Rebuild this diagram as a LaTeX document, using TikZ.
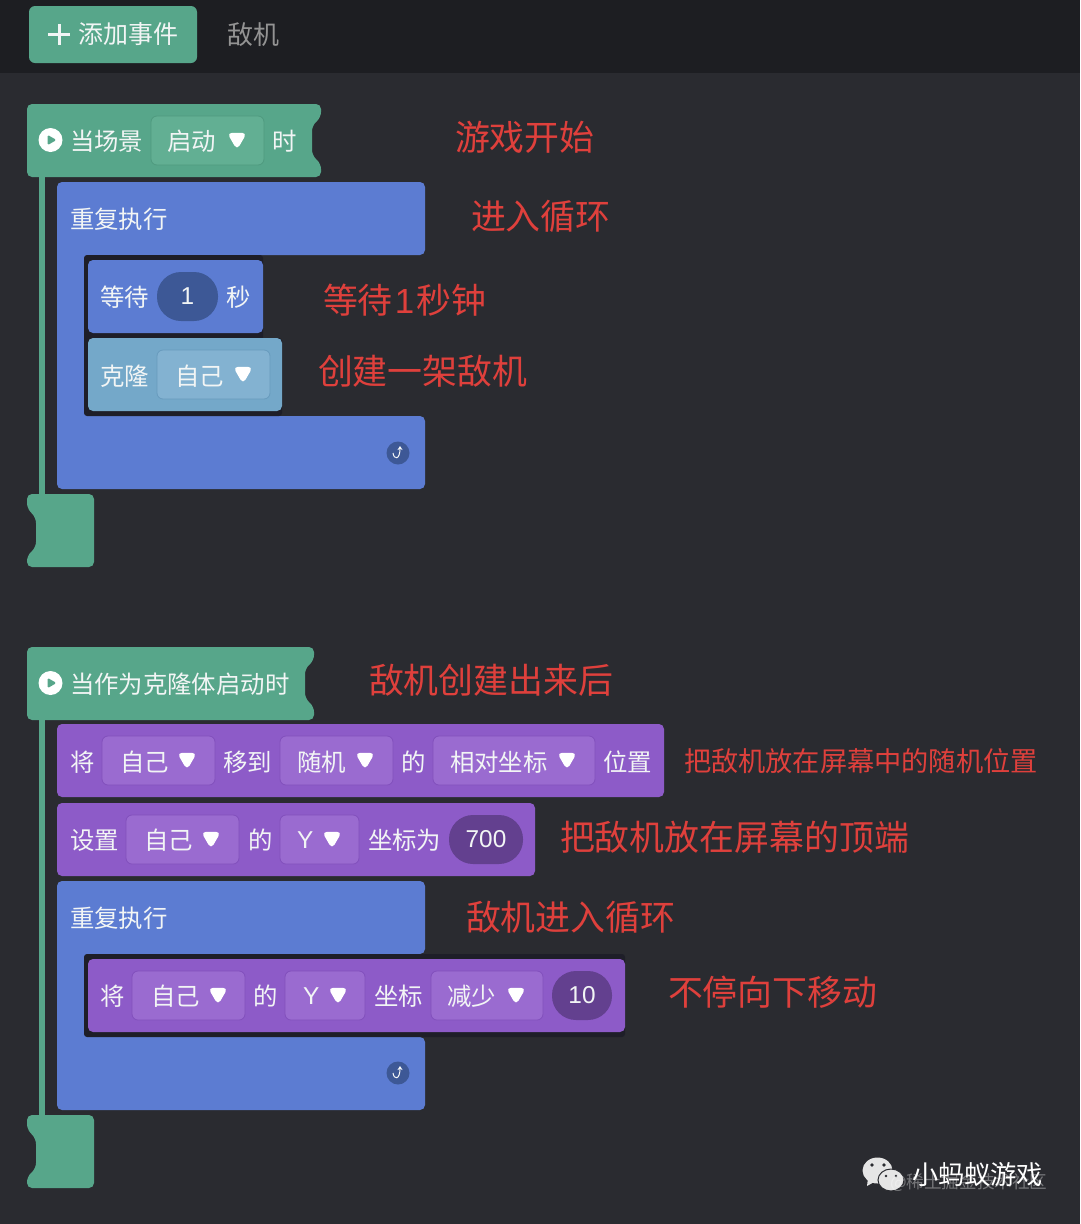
\documentclass[tikz,border=0pt]{standalone}
\usepackage{fontspec}
\usepackage{xcolor}
\usepackage{tikz}
\usetikzlibrary{shapes.geometric,arrows.meta}
\newfontfamily\cjk{Noto Sans CJK SC}
\newfontfamily\latn{Liberation Sans}
\definecolor{pagebg}{HTML}{2A2B30}
\definecolor{barbg}{HTML}{1D1E22}
\definecolor{rimbg}{HTML}{1E1E28}
\definecolor{greenb}{HTML}{57A68A}
\definecolor{greenf}{HTML}{62AF93}
\definecolor{greenl}{HTML}{4F9A7F}
\definecolor{blueb}{HTML}{5C7CD2}
\definecolor{bluedk}{HTML}{3D5896}
\definecolor{skyb}{HTML}{74A8C9}
\definecolor{skyf}{HTML}{83B2D1}
\definecolor{skyl}{HTML}{689BBD}
\definecolor{purpb}{HTML}{8D5BC8}
\definecolor{purpf}{HTML}{9A6BD0}
\definecolor{purpl}{HTML}{8250BC}
\definecolor{purpdk}{HTML}{63408F}
\definecolor{redtxt}{HTML}{DF403C}
\definecolor{softw}{HTML}{F2F5F5}

\begin{document}
\begin{tikzpicture}[x=1pt,y=-1pt]
\tikzstyle{every node}=[inner sep=0pt,outer sep=0pt];
\tikzstyle{lbl}=[anchor=west,text=softw,font=\cjk\fontsize{24.4}{28}\selectfont];
\tikzstyle{note}=[anchor=west,text=redtxt,font=\cjk\fontsize{34.9}{40}\selectfont];
\tikzstyle{stackb}=[rounded corners=5pt,minimum height=73pt];
\tikzstyle{pick}=[rounded corners=6pt,minimum height=49pt,draw,line width=0.8pt];
\tikzstyle{num}=[rounded corners=24pt,minimum height=49pt,text=softw,font=\latn\fontsize{24.4}{28}\selectfont];
\tikzstyle{dropm}=[regular polygon,regular polygon sides=3,shape border rotate=180,fill=white,rounded corners=5pt,minimum size=23pt];
\tikzstyle{playc}=[circle,fill=white,minimum size=24pt];
\tikzstyle{playt}=[regular polygon,regular polygon sides=3,shape border rotate=-90,rounded corners=1.5pt,minimum size=12pt];
\tikzstyle{loopc}=[circle,fill=bluedk,minimum size=23pt];
\useasboundingbox (0,0) rectangle (1080,1224);
\fill[pagebg] (0,0) rectangle (1080,1224);
\fill[barbg] (0,0) rectangle (1080,73);
% top bar
\path (113,34.5) node (addb) [fill=greenb,rounded corners=6pt,minimum width=168pt,minimum height=57pt] {};
\draw[softw,line width=3pt] (48,34.5) -- (70,34.5) (59,24) -- (59,45);
\path (78,34) node (addt) [lbl,font=\cjk\fontsize{25}{28}\selectfont] {添加事件};
\path (227,35) node (tabt) [lbl,text=gray!85,font=\cjk\fontsize{26}{30}\selectfont] {敌机};
% first script
\fill[greenb,rounded corners=5pt] (42,177) -- (27,177) -- (27,104) -- (321,104) -- (321,117) -- (312,126) -- (312,155) -- (321,164) -- (321,177) -- cycle;
\fill[greenb] (39,177) rectangle (45,500);
\fill[greenb,rounded corners=5pt] (60,494) -- (94,494) -- (94,567) -- (27,567) -- (27,556) -- (36,547) -- (36,518) -- (27,508) -- (27,494) -- cycle;
\path (50.5,140) node (p1) [playc] {};
\path (50.5,140) node (p1t) [playt,fill=greenb] {};
\path (70,141) node (h1a) [lbl] {当场景};
\path (207.5,140.5) node (f1) [pick,fill=greenf,draw=greenl,minimum width=113pt] {};
\path (167,141) node (f1t) [lbl] {启动};
\path (237,138.5) node (d1) [dropm] {};
\path (272,141) node (h1b) [lbl] {时};
% loop
\fill[blueb,rounded corners=5pt] (200,182) -- (425,182) -- (425,255) -- (84,255) -- (84,416) -- (425,416) -- (425,489) -- (57,489) -- (57,182) -- cycle;
\fill[rimbg,rounded corners=3pt] (84,255) rectangle (263,345);
\fill[rimbg,rounded corners=3pt] (84,338) rectangle (282,416);
\path (70,219) node (r1t) [lbl] {重复执行};
\path (175.5,296.5) node (w1) [stackb,fill=blueb,minimum width=175pt] {};
\path (100,297) node (w1t) [lbl] {等待};
\path (187.5,296.5) node (w1n) [num,fill=bluedk,minimum width=61pt] {1};
\path (226,297) node (w1u) [lbl] {秒};
\path (185,374.5) node (c1) [stackb,fill=skyb,minimum width=194pt] {};
\path (100,376) node (c1t) [lbl] {克隆};
\path (213.5,374.5) node (f2) [pick,fill=skyf,draw=skyl,minimum width=113pt] {};
\path (175,376) node (f2t) [lbl] {自己};
\path (243,372.5) node (d2) [dropm] {};
\path (398,453) node (l1) [loopc] {};
\draw[softw!65,line width=1pt,-{Stealth[length=4pt,width=5pt]}] (393,453) .. controls (394,460) and (400,460) .. (400,446);
% second script
\fill[greenb,rounded corners=5pt] (42,720) -- (27,720) -- (27,647) -- (314,647) -- (314,660) -- (305,669) -- (305,698) -- (314,707) -- (314,720) -- cycle;
\fill[greenb] (39,720) rectangle (45,1121);
\fill[greenb,rounded corners=5pt] (60,1115) -- (94,1115) -- (94,1188) -- (27,1188) -- (27,1177) -- (36,1168) -- (36,1139) -- (27,1129) -- (27,1115) -- cycle;
\path (50.5,683) node (p2) [playc] {};
\path (50.5,683) node (p2t) [playt,fill=greenb] {};
\path (70,684) node (h2a) [lbl] {当作为克隆体启动时};
\path (360.5,760.5) node (m1) [stackb,fill=purpb,minimum width=607pt] {};
\path (70,762) node (m1a) [lbl] {将};
\path (158.5,760.5) node (f3) [pick,fill=purpf,draw=purpl,minimum width=113pt] {};
\path (120,762) node (f3t) [lbl] {自己};
\path (187,758.5) node (d3) [dropm] {};
\path (223,762) node (m1b) [lbl] {移到};
\path (336.5,760.5) node (f4) [pick,fill=purpf,draw=purpl,minimum width=113pt] {};
\path (297,762) node (f4t) [lbl] {随机};
\path (365,758.5) node (d4) [dropm] {};
\path (401,762) node (m1c) [lbl] {的};
\path (514,760.5) node (f5) [pick,fill=purpf,draw=purpl,minimum width=162pt] {};
\path (450,762) node (f5t) [lbl] {相对坐标};
\path (567,758.5) node (d5) [dropm] {};
\path (603,762) node (m1d) [lbl] {位置};
\path (296,839.5) node (m2) [stackb,fill=purpb,minimum width=478pt] {};
\path (70,840) node (m2a) [lbl] {设置};
\path (182.5,839.5) node (f6) [pick,fill=purpf,draw=purpl,minimum width=113pt] {};
\path (144,840) node (f6t) [lbl] {自己};
\path (211,837.5) node (d6) [dropm] {};
\path (248,840) node (m2b) [lbl] {的};
\path (319.5,839.5) node (f7) [pick,fill=purpf,draw=purpl,minimum width=79pt] {};
\path (297,840) node (f7t) [lbl,font=\latn\fontsize{24.4}{28}\selectfont] {Y};
\path (332,837.5) node (d7) [dropm] {};
\path (368,840) node (m2c) [lbl] {坐标为};
\path (486,839.5) node (n2) [num,fill=purpdk,minimum width=74pt] {700};
\fill[blueb,rounded corners=5pt] (200,881) -- (425,881) -- (425,954) -- (84,954) -- (84,1037) -- (425,1037) -- (425,1110) -- (57,1110) -- (57,881) -- cycle;
\fill[rimbg,rounded corners=3pt] (84,954) rectangle (625,1037);
\path (70,918) node (r2t) [lbl] {重复执行};
\path (356.5,995.5) node (m3) [stackb,fill=purpb,minimum width=537pt] {};
\path (100,996) node (m3a) [lbl] {将};
\path (188.5,995.5) node (f8) [pick,fill=purpf,draw=purpl,minimum width=113pt] {};
\path (151,996) node (f8t) [lbl] {自己};
\path (218,993.5) node (d8) [dropm] {};
\path (253,996) node (m3b) [lbl] {的};
\path (325,995.5) node (f9) [pick,fill=purpf,draw=purpl,minimum width=80pt] {};
\path (303,996) node (f9t) [lbl,font=\latn\fontsize{24.4}{28}\selectfont] {Y};
\path (338,993.5) node (d9) [dropm] {};
\path (374,996) node (m3c) [lbl] {坐标};
\path (487,995.5) node (f10) [pick,fill=purpf,draw=purpl,minimum width=112pt] {};
\path (447,996) node (f10t) [lbl] {减少};
\path (516,993.5) node (d10) [dropm] {};
\path (582,995.5) node (n3) [num,fill=purpdk,minimum width=60pt] {10};
\path (398,1073) node (l2) [loopc] {};
\draw[softw!65,line width=1pt,-{Stealth[length=4pt,width=5pt]}] (393,1073) .. controls (394,1080) and (400,1080) .. (400,1066);
% red notes
\path (455,137) node (n1) [note] {游戏开始};
\path (471,216) node (n4) [note] {进入循环};
\path (323,300) node (n5) [note] {等待\hspace{2pt}{\latn 1}\hspace{2pt}秒钟};
\path (318,371) node (n6) [note] {创建一架敌机};
\path (369,680) node (n7) [note] {敌机创建出来后};
\path (684,761) node (n8) [note,font=\cjk\fontsize{27.2}{32}\selectfont] {把敌机放在屏幕中的随机位置};
\path (560,837) node (n9) [note] {把敌机放在屏幕的顶端};
\path (466,917) node (n10) [note] {敌机进入循环};
\path (668,992) node (n11) [note] {不停向下移动};
% watermark
\path (877.5,1170.5) node (wb1) [ellipse,fill=white!90!black,minimum width=30pt,minimum height=26pt] {};
\fill[white!90!black] (868,1178) -- (867,1186) -- (876,1181) -- cycle;
\path (891,1180) node (wb2) [ellipse,fill=white!90!black,draw=pagebg,line width=1pt,minimum width=26pt,minimum height=22pt] {};
\fill[pagebg] (872,1165) circle (1.8) (884,1165) circle (1.8) (886,1176) circle (1.4) (896,1176) circle (1.4);
\path (912,1175) node (wt) [anchor=west,text=white,font=\cjk\fontsize{26.2}{30}\selectfont] {小蚂蚁游戏};
\path (890,1183) node (wm) [anchor=west,text=white,text opacity=.35,font=\cjk\fontsize{17.6}{20}\selectfont] {@稀土掘金技术社区};
\end{tikzpicture}
\end{document}
